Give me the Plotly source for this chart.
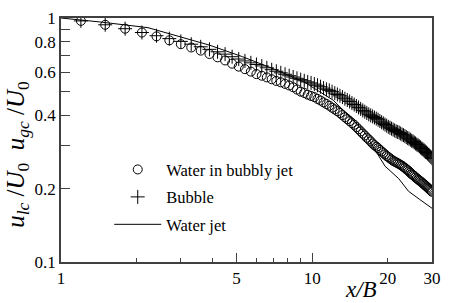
import plotly.graph_objects as go

# common x grid (x/B)
x_pts = [1.2, 1.5, 1.8, 2.1, 2.4, 2.7, 3.0, 3.3, 3.6, 3.9,
         4.2, 4.5, 4.8, 5.1, 5.4, 5.7, 6.0, 6.3, 6.6, 6.9,
         7.2, 7.5, 7.8, 8.1, 8.4, 8.7, 9.0, 9.3, 9.6, 9.9,
         10.2, 10.5, 10.8, 11.1, 11.4, 11.7, 12.0, 12.3, 12.6, 12.9,
         13.2, 13.5, 13.8, 14.1, 14.4, 14.7, 15.0, 15.3, 15.6, 15.9,
         16.2, 16.5, 16.8, 17.1, 17.4, 17.7, 18.0, 18.3, 18.6, 18.9,
         19.2, 19.5, 19.8, 20.1, 20.4, 20.7, 21.0, 21.3, 21.6, 21.9,
         22.2, 22.5, 22.8, 23.1, 23.4, 23.7, 24.0, 24.3, 24.6, 24.9,
         25.2, 25.5, 25.8, 26.1, 26.4, 26.7, 27.0, 27.3, 27.6, 27.9,
         28.2, 28.5, 28.8, 29.1, 29.4, 29.7, 30.0]

water_bubbly = [.973, .938, .904, .872, .841, .810, .781, .757, .735, .712,
                .690, .670, .650, .632, .617, .603, .589, .580, .571, .561,
                .552, .545, .537, .529, .520, .509, .499, .493, .485, .479,
                .474, .466, .459, .451, .444, .437, .429, .422, .415, .408,
                .400, .392, .385, .378, .371, .365, .357, .350, .343, .336,
                .330, .323, .318, .312, .306, .301, .297, .293, .288, .284,
                .280, .276, .272, .269, .266, .263, .260, .258, .256, .254,
                .252, .250, .248, .245, .243, .240, .238, .235, .232, .229,
                .227, .225, .222, .220, .218, .216, .214, .212, .210, .208,
                .206, .204, .202, .200, .198, .196, .194]

bubble = [.973, .938, .904, .872, .846, .823, .802, .781, .762, .744,
          .727, .711, .694, .679, .667, .655, .645, .636, .625, .614,
          .605, .596, .588, .580, .573, .566, .559, .553, .547, .542,
          .536, .530, .523, .516, .510, .505, .499, .492, .486, .480,
          .474, .467, .461, .455, .448, .442, .436, .430, .424, .418,
          .413, .408, .403, .399, .395, .391, .387, .383, .378, .374,
          .370, .366, .362, .358, .355, .352, .349, .346, .343, .341,
          .339, .336, .333, .331, .328, .325, .322, .320, .317, .314,
          .312, .309, .306, .303, .301, .298, .295, .292, .290, .287,
          .284, .281, .278, .275, .272, .269, .266]

jet_x = [1.0, 1.42, 2.22, 3.03, 3.9, 5.28, 7.1, 9.28, 12.14, 14.52, 16.17,
         17.68, 19.5, 22.12, 24.18, 26.69, 30.0]
jet_y = [1.0, 0.964, 0.913, 0.833, 0.774, 0.694, 0.616, 0.547, 0.460, 0.383,
         0.340, 0.291, 0.247, 0.2195, 0.195, 0.181, 0.166]

x_tickvals = [1, 5, 10, 20, 30]
x_ticktext = ["1", "5", "10", "20", "30"]
x_minor_ticks = [2, 3, 4, 6, 7, 8, 9]
x_long_ticks = [5, 10]
y_tickvals = [0.1, 0.2, 0.4, 0.6, 0.8, 1.0]
y_ticktext = ["0.1", "0.2", "0.4", "0.6", "0.8", "1"]
y_minor_ticks = [0.3, 0.5, 0.7, 0.9]

FONT = "Liberation Serif, Times New Roman, DejaVu Serif, serif"
AX = "#404040"

fig = go.Figure()
fig.add_trace(go.Scatter(x=x_pts, y=water_bubbly, mode="markers",
                         name="Water in bubbly jet", legendgroup="a",
                         marker=dict(symbol="circle-open", size=9, color="black",
                                     line=dict(width=1, color="black"))))
fig.add_trace(go.Scatter(x=x_pts, y=bubble, mode="markers", name="Bubble",
                         legendgroup="b",
                         marker=dict(symbol="cross-thin-open", size=10, color="black",
                                     line=dict(width=1, color="black"))))
fig.add_trace(go.Scatter(x=jet_x, y=jet_y, mode="lines", name="Water jet",
                         legendgroup="c", line=dict(color="black", width=1)))
# overlay axis for the longer ticks
fig.add_trace(go.Scatter(x=[], y=[], xaxis="x2", showlegend=False, hoverinfo="skip"))

fig.update_layout(
    width=450, height=303,
    margin=dict(l=61, r=9, t=10, b=41),
    paper_bgcolor="white", plot_bgcolor="white",
    font=dict(family=FONT, size=17, color="black"),
    showlegend=True,
    legend=dict(x=0.13, y=0.45, xanchor="left", yanchor="top",
                bgcolor="rgba(0,0,0,0)", font=dict(family=FONT, size=16.5),
                itemwidth=47, tracegroupgap=3, traceorder="grouped"),
    xaxis=dict(type="log", range=[0, 1.4771], tickmode="array",
               tickvals=x_tickvals, ticktext=x_ticktext,
               ticks="inside", ticklen=4, tickwidth=1.2, tickcolor=AX,
               minor=dict(tickmode="array", tickvals=x_minor_ticks, ticks="inside",
                          ticklen=4, tickwidth=1.2, tickcolor=AX, showgrid=False),
               showline=True, linecolor=AX, linewidth=1.5, mirror=True,
               showgrid=False, zeroline=False,
               tickfont=dict(family=FONT, size=17, color="black")),
    xaxis2=dict(type="log", range=[0, 1.4771], overlaying="x", anchor="y",
                side="bottom", tickmode="array", tickvals=x_long_ticks,
                ticks="inside", ticklen=9, tickwidth=1.2, tickcolor=AX,
                showticklabels=False, showline=False, showgrid=False, zeroline=False),
    yaxis=dict(type="log", range=[-1, 0], tickmode="array",
               tickvals=y_tickvals, ticktext=y_ticktext,
               ticks="inside", ticklen=9, tickwidth=1.2, tickcolor=AX,
               minor=dict(tickmode="array", tickvals=y_minor_ticks, ticks="inside",
                          ticklen=9, tickwidth=1.2, tickcolor=AX, showgrid=False),
               showline=True, linecolor=AX, linewidth=1.5, mirror=True,
               showgrid=False, zeroline=False,
               tickfont=dict(family=FONT, size=17, color="black")),
    annotations=[
        dict(text="<i>u</i><sub><i>lc</i></sub> /<i>U</i><sub>0</sub>  "
                  "<i>u</i><sub><i>gc</i></sub> /<i>U</i><sub>0</sub>",
             xref="paper", yref="paper", x=-0.118, y=0.44, textangle=-90,
             xanchor="center", yanchor="middle", showarrow=False,
             font=dict(family=FONT, size=25, color="black")),
        dict(text="<i>x/B</i>", xref="paper", yref="paper", x=0.808, y=-0.112,
             xanchor="center", yanchor="middle", showarrow=False,
             font=dict(family=FONT, size=23, color="black")),
    ],
)

fig.write_html("out.html", config={"displayModeBar": False},
               post_script="document.body.style.margin='0';document.body.style.overflow='hidden';")
